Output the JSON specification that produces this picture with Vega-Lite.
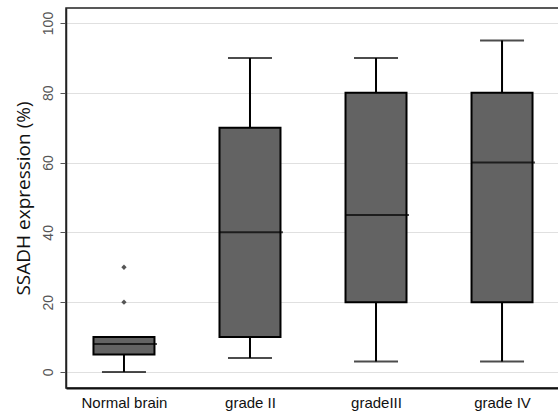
{
  "$schema": "https://vega.github.io/schema/vega-lite/v6.json",
  "width": 494,
  "height": 380,
  "autosize": "none",
  "padding": {"left": 66, "top": 8, "right": 0, "bottom": 27},
  "background": "white",
  "config": {
    "view": {"stroke": "#222", "strokeWidth": 1.5},
    "font": "Liberation Sans"
  },
  "datasets": {
    "boxes": [
      {"group": "Normal brain", "min": 0, "q1": 5, "median": 8, "q3": 10, "max": 10},
      {"group": "grade II", "min": 4, "q1": 10, "median": 40, "q3": 70, "max": 90},
      {"group": "gradeIII", "min": 3, "q1": 20, "median": 45, "q3": 80, "max": 90},
      {"group": "grade IV", "min": 3, "q1": 20, "median": 60, "q3": 80, "max": 95}
    ],
    "outliers": [
      {"group": "Normal brain", "value": 20},
      {"group": "Normal brain", "value": 30}
    ]
  },
  "encoding": {
    "x": {
      "field": "group", "type": "nominal",
      "sort": ["Normal brain", "grade II", "gradeIII", "grade IV"],
      "scale": {"type": "point", "padding": 0.46},
      "axis": {
        "title": null, "labelAngle": 0, "ticks": false, "grid": false,
        "domainColor": "#111", "domainWidth": 2, "labelFontSize": 15,
        "labelColor": "#111", "labelPadding": 7
      }
    }
  },
  "layer": [
    {
      "data": {"name": "boxes"},
      "mark": {"type": "rule", "stroke": "black", "strokeWidth": 2},
      "encoding": {
        "y": {
          "field": "min", "type": "quantitative",
          "scale": {"domain": [-4.6, 104.3], "nice": false, "zero": false},
          "axis": {
            "title": "SSADH expression (%)", "titleFontSize": 19, "titleFont": "Open Sans",
            "titleFontWeight": "normal", "titleColor": "#111", "titlePadding": 8,
            "values": [0, 20, 40, 60, 80, 100], "labelAngle": -90,
            "labelAlign": "center", "labelBaseline": "bottom", "labelPadding": 5,
            "labelFontSize": 14, "labelColor": "#555", "tickColor": "#555", "tickSize": 6,
            "domainColor": "#222", "domainWidth": 1.5,
            "gridColor": "#e0e0e0", "gridWidth": 1
          }
        },
        "y2": {"field": "max"}
      }
    },
    {
      "data": {"name": "boxes"},
      "mark": {"type": "tick", "color": "black", "thickness": 2, "size": 44, "orient": "horizontal"},
      "encoding": {"y": {"field": "min", "type": "quantitative"}}
    },
    {
      "data": {"name": "boxes"},
      "transform": [{"filter": "datum.max > datum.q3"}],
      "mark": {"type": "tick", "color": "black", "thickness": 2, "size": 44, "orient": "horizontal"},
      "encoding": {"y": {"field": "max", "type": "quantitative"}}
    },
    {
      "data": {"name": "boxes"},
      "mark": {"type": "bar", "fill": "#636363", "stroke": "black", "strokeWidth": 2, "size": 61},
      "encoding": {
        "y": {"field": "q1", "type": "quantitative"},
        "y2": {"field": "q3"}
      }
    },
    {
      "data": {"name": "boxes"},
      "mark": {"type": "tick", "color": "black", "thickness": 2, "size": 64, "orient": "horizontal", "xOffset": 1},
      "encoding": {"y": {"field": "median", "type": "quantitative"}}
    },
    {
      "data": {"name": "outliers"},
      "mark": {"type": "point", "shape": "diamond", "filled": true, "color": "#555", "size": 28, "opacity": 1},
      "encoding": {"y": {"field": "value", "type": "quantitative"}}
    }
  ]
}
